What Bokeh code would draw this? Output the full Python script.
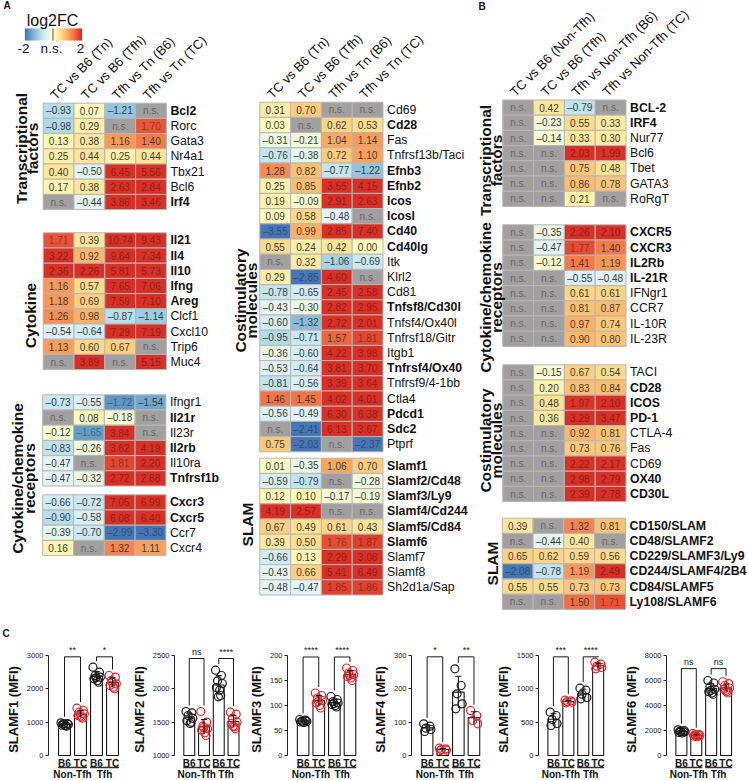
import numpy as np
from bokeh.plotting import figure
from bokeh.models import Range1d, FixedTicker, ColumnDataSource
from bokeh.layouts import column, row
from bokeh.embed import file_html
from bokeh.resources import INLINE
from bokeh.core.properties import value

FONT = "Liberation Sans"
NS = None  # not significant

# ---------------- Panel A data ----------------
a_columns = ["TC vs B6 (Tn)", "TC vs B6 (Tfh)", "Tfh vs Tn (B6)", "Tfh vs Tn (TC)"]

a_tf_genes = ["Bcl2", "Rorc", "Gata3", "Nr4a1", "Tbx21", "Bcl6", "Irf4"]
a_tf_bold = [1, 0, 0, 0, 0, 0, 1]
a_tf_values = [
    [-0.93, 0.07, -1.21, NS],
    [-0.98, 0.29, NS, 1.70],
    [0.13, 0.38, 1.16, 1.40],
    [0.25, 0.44, 0.25, 0.44],
    [0.40, -0.50, 6.45, 5.56],
    [0.17, 0.38, 2.63, 2.84],
    [NS, -0.44, 3.86, 3.46],
]

a_cyt_genes = ["Il21", "Il4", "Il10", "Ifng", "Areg", "Clcf1", "Cxcl10", "Trip6", "Muc4"]
a_cyt_bold = [1, 1, 1, 1, 1, 0, 0, 0, 0]
a_cyt_values = [
    [1.71, 0.39, 10.74, 9.43],
    [3.22, 0.92, 9.64, 7.34],
    [2.36, 2.26, 5.81, 5.73],
    [1.16, 0.57, 7.65, 7.06],
    [1.18, 0.69, 7.59, 7.10],
    [1.26, 0.98, -0.87, -1.14],
    [-0.54, -0.64, 7.29, 7.19],
    [1.13, 0.60, 0.67, NS],
    [NS, 3.89, NS, 5.15],
]

a_rec1_genes = ["Ifngr1", "Il21r", "Il23r", "Il2rb", "Il10ra", "Tnfrsf1b"]
a_rec1_bold = [0, 1, 0, 1, 0, 1]
a_rec1_values = [
    [-0.73, -0.55, -1.72, -1.54],
    [NS, 0.08, -0.18, NS],
    [-0.12, -1.65, 3.84, NS],
    [-0.83, -0.26, 3.62, 4.19],
    [-0.47, NS, 1.81, 2.20],
    [-0.47, -0.32, 2.72, 2.88],
]

a_rec2_genes = ["Cxcr3", "Cxcr5", "Ccr7", "Cxcr4"]
a_rec2_bold = [1, 1, 0, 0]
a_rec2_values = [
    [-0.66, -0.72, 7.05, 6.99],
    [-0.90, -0.58, 6.08, 6.40],
    [-0.39, -0.70, -2.99, -3.30],
    [0.16, NS, 1.32, 1.11],
]

a_cos_genes = ["Cd69", "Cd28", "Fas", "Tnfrsf13b/Taci", "Efnb3", "Efnb2", "Icos", "Icosl",
               "Cd40", "Cd40lg", "Itk", "Klrl2", "Cd81", "Tnfsf8/Cd30l", "Tnfsf4/Ox40l",
               "Tnfrsf18/Gitr", "Itgb1", "Tnfrsf4/Ox40", "Tnfrsf9/4-1bb", "Ctla4", "Pdcd1",
               "Sdc2", "Ptprf"]
a_cos_bold = [0, 1, 0, 0, 1, 1, 1, 1, 1, 1, 0, 0, 0, 1, 0, 0, 0, 1, 0, 0, 1, 1, 0]
a_cos_values = [
    [0.31, 0.70, NS, NS],
    [0.03, NS, 0.62, 0.53],
    [-0.31, -0.21, 1.04, 1.14],
    [-0.76, -0.38, 0.72, 1.10],
    [1.28, 0.82, -0.77, -1.22],
    [0.25, 0.85, 3.55, 4.15],
    [0.19, -0.09, 2.91, 2.63],
    [0.09, 0.58, -0.48, NS],
    [-3.55, 0.99, 2.85, 7.40],
    [0.55, 0.24, 0.42, 0.00],
    [NS, 0.32, -1.06, -0.69],
    [0.29, -2.85, 4.60, NS],
    [-0.78, -0.65, 2.45, 2.58],
    [-0.43, -0.30, 2.82, 2.95],
    [-0.60, -1.32, 2.72, 2.01],
    [-0.95, -0.71, 1.57, 1.81],
    [-0.36, -0.60, 4.22, 3.98],
    [-0.53, -0.64, 3.81, 3.70],
    [-0.81, -0.56, 3.39, 3.64],
    [1.46, 1.45, 4.02, 4.01],
    [-0.56, -0.49, 6.30, 6.38],
    [NS, -2.41, 6.13, 3.67],
    [0.75, -2.03, NS, -2.37],
]

a_slam_genes = ["Slamf1", "Slamf2/Cd48", "Slamf3/Ly9", "Slamf4/Cd244", "Slamf5/Cd84",
                "Slamf6", "Slamf7", "Slamf8", "Sh2d1a/Sap"]
a_slam_bold = [1, 1, 1, 1, 1, 1, 0, 0, 0]
a_slam_values = [
    [0.01, -0.35, 1.06, 0.70],
    [-0.59, -0.79, NS, -0.28],
    [0.12, 0.10, -0.17, -0.19],
    [4.19, 2.57, NS, NS],
    [0.67, 0.49, 0.61, 0.43],
    [0.39, 0.50, 1.76, 1.87],
    [-0.66, 0.13, 2.29, 3.08],
    [-0.43, 0.66, 5.41, 6.49],
    [-0.48, -0.47, 1.85, 1.86],
]

# ---------------- Panel B data ----------------
b_columns = ["TC vs B6 (Non-Tfh)", "TC vs B6 (Tfh)", "Tfh vs Non-Tfh (B6)", "Tfh vs Non-Tfh (TC)"]

b_tf_genes = ["BCL-2", "IRF4", "Nur77", "Bcl6", "Tbet", "GATA3", "RoRgT"]
b_tf_bold = [1, 1, 0, 0, 0, 0, 0]
b_tf_values = [
    [NS, 0.42, -0.79, NS],
    [NS, -0.23, 0.55, 0.33],
    [NS, -0.14, 0.33, 0.30],
    [NS, NS, 2.03, 1.99],
    [NS, NS, 0.75, 0.48],
    [NS, NS, 0.86, 0.78],
    [NS, NS, 0.21, NS],
]

b_rec_genes = ["CXCR5", "CXCR3", "IL2Rb", "IL-21R", "IFNgr1", "CCR7", "IL-10R", "IL-23R"]
b_rec_bold = [1, 1, 1, 1, 0, 0, 0, 0]
b_rec_values = [
    [NS, -0.35, 2.26, 2.10],
    [NS, -0.47, 1.77, 1.40],
    [NS, -0.12, 1.41, 1.19],
    [NS, NS, -0.55, -0.48],
    [NS, NS, 0.61, 0.61],
    [NS, NS, 0.81, 0.87],
    [NS, NS, 0.97, 0.74],
    [NS, NS, 0.90, 0.80],
]

b_cos_genes = ["TACI", "CD28", "ICOS", "PD-1", "CTLA-4", "Fas", "CD69", "OX40", "CD30L"]
b_cos_bold = [0, 1, 1, 1, 0, 0, 0, 1, 1]
b_cos_values = [
    [NS, -0.15, 0.67, 0.54],
    [NS, 0.20, 0.83, 0.84],
    [NS, 0.48, 1.97, 2.10],
    [NS, 0.36, 3.29, 3.47],
    [NS, NS, 0.92, 0.81],
    [NS, NS, 0.73, 0.76],
    [NS, NS, 2.22, 2.17],
    [NS, NS, 2.98, 2.79],
    [NS, NS, 2.39, 2.78],
]

b_slam_genes = ["CD150/SLAM", "CD48/SLAMF2", "CD229/SLAMF3/Ly9", "CD244/SLAMF4/2B4",
                "CD84/SLAMF5", "Ly108/SLAMF6"]
b_slam_bold = [1, 1, 1, 1, 1, 1]
b_slam_values = [
    [0.39, NS, 1.32, 0.81],
    [NS, -0.44, 0.40, NS],
    [0.65, 0.62, 0.59, 0.56],
    [-2.08, -0.78, 1.19, 2.49],
    [0.55, 0.55, 0.73, 0.73],
    [NS, NS, 1.50, 1.71],
]

# ---------------- Panel C data (MFI, individual mice) ----------------
c_groups = ["B6", "TC", "B6", "TC"]
c_supergroups = ["Non-Tfh", "Tfh"]
c_titles = ["SLAMF1 (MFI)", "SLAMF2 (MFI)", "SLAMF3 (MFI)", "SLAMF4 (MFI)", "SLAMF5 (MFI)", "SLAMF6 (MFI)"]
c_ticks = [[0, 1000, 2000, 3000], [1000, 1500, 2000, 2500], [0, 50, 100, 150, 200],
           [0, 100, 200, 300], [0, 500, 1000, 1500], [0, 2000, 4000, 6000, 8000]]
slamf1 = [[980, 960, 940, 930, 910, 900, 880, 950],
          [1420, 1350, 1300, 1250, 1200, 1150, 1120, 1180],
          [2650, 2500, 2400, 2350, 2300, 2250, 2200, 2330],
          [2400, 2350, 2250, 2150, 2100, 2050, 2000, 2200]]
slamf2 = [[1660, 1640, 1600, 1560, 1520, 1480, 1500],
          [1660, 1500, 1440, 1400, 1380, 1340, 1300, 1420],
          [2280, 2200, 2120, 2080, 2020, 1980, 1900, 1880],
          [1650, 1620, 1560, 1500, 1480, 1430, 1400, 1440]]
slamf3 = [[72, 70, 69, 68, 67, 66, 71, 68],
          [125, 120, 115, 110, 105, 100, 95, 108],
          [118, 112, 108, 105, 102, 100, 97, 104],
          [175, 170, 165, 162, 158, 155, 150, 160]]
slamf4 = [[95, 88, 82, 78, 72],
          [22, 20, 18, 16, 15],
          [260, 210, 185, 155, 140],
          [135, 120, 105, 95]]
slamf5 = [[650, 600, 540, 480, 450],
          [830, 820, 810, 800, 790],
          [1010, 980, 920, 870, 850],
          [1400, 1370, 1340, 1320, 1300]]
slamf6 = [[2050, 2000, 1950, 1900, 1850, 1800, 1880, 1920],
          [1750, 1700, 1650, 1600, 1550, 1500, 1620, 1580],
          [6000, 5800, 5500, 5300, 5100, 5000, 4900, 5200],
          [5900, 5750, 5600, 5400, 5300, 5100, 5000, 5200]]
c_data = [slamf1, slamf2, slamf3, slamf4, slamf5, slamf6]
c_sig = [("**", "*"), ("ns", "****"), ("****", "****"), ("*", "**"), ("***", "****"), ("ns", "ns")]
c_bracket_top = [2960, 2455, 197, 296, 1480, 6950]

# ---------------- colours ----------------
STOPS = [(-2.0, "#4575b4"), (-1.5, "#74add1"), (-1.0, "#abd9e9"), (-0.5, "#e0f3f8"),
         (0.0, "#ffffbf"), (0.5, "#fee090"), (1.0, "#fdae61"), (1.5, "#f46d43"), (2.0, "#d73027")]
NS_FILL = "#a19f9f"


def hex2rgb(h):
    return np.array([int(h[i:i + 2], 16) for i in (1, 3, 5)], dtype=float)


def rgb2hex(c):
    c = np.clip(np.round(c), 0, 255).astype(int)
    return "#%02x%02x%02x" % tuple(c)


def cmap(v):
    v = max(-2.0, min(2.0, v))
    for (a, ca), (b, cb) in zip(STOPS[:-1], STOPS[1:]):
        if v <= b:
            t = (v - a) / (b - a)
            return rgb2hex(hex2rgb(ca) * (1 - t) + hex2rgb(cb) * t)
    return STOPS[-1][1]


def fmt(v):
    s = "%.2f" % abs(v)
    return ("\u2013" + s) if v < 0 else s


# ---------------- top figure (panels A and B) ----------------
W, H = 748, 640
top = figure(width=W, height=H, x_range=Range1d(0, W), y_range=Range1d(H, 0),
             output_backend="svg", toolbar_location=None, min_border=0,
             x_axis_location=None, y_axis_location=None)
top.grid.visible = False
top.outline_line_color = None

CW, RH = 30.8, 15.2
blocks = [
    (a_tf_genes, a_tf_bold, a_tf_values, 42.7, 102.7),
    (a_cyt_genes, a_cyt_bold, a_cyt_values, 42.7, 232.3),
    (a_rec1_genes, a_rec1_bold, a_rec1_values, 42.2, 394.3),
    (a_rec2_genes, a_rec2_bold, a_rec2_values, 42.2, 494.3),
    (a_cos_genes, a_cos_bold, a_cos_values, 259.3, 101.7),
    (a_slam_genes, a_slam_bold, a_slam_values, 259.3, 457.7),
    (b_tf_genes, b_tf_bold, b_tf_values, 502.3, 99.5),
    (b_rec_genes, b_rec_bold, b_rec_values, 502.3, 224.3),
    (b_cos_genes, b_cos_bold, b_cos_values, 502.3, 364.3),
    (b_slam_genes, b_slam_bold, b_slam_values, 501.8, 517.7),
]

cell = dict(x=[], y=[], fill=[], label=[], tcol=[])
lab_n = dict(x=[], y=[], text=[])
lab_b = dict(x=[], y=[], text=[])
for genes, bold, vals, x0, y0 in blocks:
    for i, (g, b, rv) in enumerate(zip(genes, bold, vals)):
        cy = y0 + (i + 0.5) * RH
        for j, v in enumerate(rv):
            cx = x0 + (j + 0.5) * CW
            cell["x"].append(cx)
            cell["y"].append(cy)
            if v is None:
                cell["fill"].append(NS_FILL)
                cell["label"].append("n.s.")
                cell["tcol"].append("#6b6969")
            else:
                f = cmap(v)
                cell["fill"].append(f)
                cell["label"].append(fmt(v))
                if abs(v) >= 1.6:
                    cell["tcol"].append(rgb2hex(hex2rgb(f) * 0.68))
                else:
                    cell["tcol"].append("#3d3d3d")
        d = lab_b if b else lab_n
        d["x"].append(x0 + 4 * CW + 4)
        d["y"].append(cy)
        d["text"].append(g)

cell_src = ColumnDataSource(cell)
top.rect(x="x", y="y", width=CW, height=RH, fill_color="fill", line_color="#b7b5b5",
         line_width=1, source=cell_src)
top.text(x="x", y="y", text="label", text_color="tcol", text_align="center",
         text_baseline="middle", text_font=value(FONT), text_font_size="10px",
         source=cell_src)
top.text(x="x", y="y", text="text", text_color="#111111", text_align="left",
         text_baseline="middle", text_font=value(FONT), text_font_size="12.3px",
         source=ColumnDataSource(lab_n))
top.text(x="x", y="y", text="text", text_color="#111111", text_align="left",
         text_baseline="middle", text_font=value(FONT), text_font_size="12.3px",
         text_font_style="bold", source=ColumnDataSource(lab_b))

# rotated column headers
hdr = dict(x=[], y=[], text=[])
for cols, bx, by in [(a_columns, 42.7, 102.7), (a_columns, 259.3, 101.7), (b_columns, 502.3, 99.5)]:
    for j, c in enumerate(cols):
        hdr["x"].append(bx + (j + 0.5) * CW - 6)
        hdr["y"].append(by - 6)
        hdr["text"].append(c)
top.text(x="x", y="y", text="text", angle=np.pi / 4, text_align="left",
         text_baseline="alphabetic", text_font=value(FONT), text_font_size="13px",
         text_color="#111111", source=ColumnDataSource(hdr))

# group labels (rotated)
groups = [
    ("Transcriptional", 20.5, 148), ("factors", 31.5, 148),
    ("Cytokine", 30, 315),
    ("Cytokine/chemokine", 17, 478), ("receptors", 28.5, 478),
    ("Costimulatory", 240, 300), ("molecules", 251, 300),
    ("SLAM", 247, 524),
    ("Transcriptional", 485, 160), ("factors", 496, 160),
    ("Cytokine/chemokine", 485, 297), ("receptors", 496, 297),
    ("Costimulatory", 485, 440), ("molecules", 496, 440),
    ("SLAM", 492, 563),
]
top.text(x=[g[1] for g in groups], y=[g[2] for g in groups],
         text=[g[0] for g in groups], angle=np.pi / 2, text_align="center",
         text_baseline="middle", text_font=value(FONT), text_font_size="15.5px",
         text_font_style="bold", text_color="#111111")

# colour key
cb_n = 57
cb_vals = np.linspace(-2, 2, cb_n)
cb_x = 24.5 + (np.arange(cb_n) + 0.5) * (57.0 / cb_n)
top.rect(x=cb_x, y=[34] * cb_n, width=57.0 / cb_n + 0.3, height=12,
         fill_color=[cmap(v) for v in cb_vals], line_color=None)
top.rect(x=[52.5], y=[34], width=1.6, height=12, fill_color="#8f8f8f", line_color=None)
top.text(x=[52], y=[20], text=["log2FC"], text_align="center", text_baseline="middle",
         text_font=value(FONT), text_font_size="16px", text_color="#111111")
top.text(x=[23, 51, 80], y=[48] * 3, text=["-2", "n.s.", "2"],
         text_align="center", text_baseline="middle", text_font=value(FONT),
         text_font_size="13.5px", text_color="#111111")

# panel letters
top.text(x=[3, 478, 2], y=[5, 6, 633], text=["A", "B", "C"], text_align="left",
         text_baseline="middle", text_font=value(FONT), text_font_size="10px",
         text_font_style="bold", text_color="#111111")

# ---------------- panel C ----------------
c_widths = [128, 117, 124, 123, 128, 126]
c_borders = [48, 40, 40, 40, 40, 40]
PX = 16.0  # pixels per category slot
CH = 138
ZERO_PX, TOP_PX = 115, 15
jit = [-0.22, 0.18, -0.08, 0.24, -0.16, 0.06, 0.13, -0.03]
colors = ["#1a1a1a", "#e3232b", "#1a1a1a", "#e3232b"]

cfigs = []
for k in range(6):
    ticks = c_ticks[k]
    B, T = ticks[0], ticks[-1]
    s = (T - B) / (ZERO_PX - TOP_PX)
    w = c_widths[k]
    bl = c_borders[k]
    xr = Range1d(-1.0, -1.0 + (w - bl) / PX)
    yr = Range1d(B - (CH - ZERO_PX) * s, T + TOP_PX * s)
    p = figure(width=w, height=CH, x_range=xr, y_range=yr, output_backend="svg",
               toolbar_location=None, x_axis_location=None, min_border_left=bl,
               min_border_right=0, min_border_top=0, min_border_bottom=0)
    p.grid.visible = False
    p.outline_line_color = None
    ax = p.yaxis[0]
    ax.ticker = FixedTicker(ticks=ticks)
    ax.bounds = (B, T)
    ax.axis_label = c_titles[k]
    ax.axis_label_text_font = FONT
    ax.axis_label_text_font_size = "13px"
    ax.axis_label_text_font_style = "bold"
    ax.axis_label_text_color = "#111111"
    ax.axis_label_standoff = 3
    ax.major_label_text_font = FONT
    ax.major_label_text_font_size = "7.5px"
    ax.major_label_text_color = "#222222"
    ax.major_label_standoff = 2
    ax.major_tick_out = 3
    ax.major_tick_in = 0
    ax.minor_tick_out = 0
    ax.minor_tick_in = 0
    ax.axis_line_color = "#222222"
    ax.major_tick_line_color = "#222222"

    groups_k = c_data[k]
    xs = np.arange(4, dtype=float)
    means = [float(np.mean(g)) for g in groups_k]
    sds = [float(np.std(g, ddof=1)) for g in groups_k]
    p.vbar(x=xs, top=means, bottom=B, width=0.74, fill_color="white",
           line_color="#1a1a1a", line_width=1.1)
    for gi, g in enumerate(groups_k):
        px_ = [gi + jit[n % len(jit)] for n in range(len(g))]
        p.scatter(x=px_, y=g, size=8, marker="circle", fill_color=None,
                  line_color=colors[gi], line_width=1.2)
    # error bars (mean +/- SD)
    p.segment(x0=xs, y0=[m - sd for m, sd in zip(means, sds)], x1=xs,
              y1=[m + sd for m, sd in zip(means, sds)], line_color="#1a1a1a", line_width=1.1)
    p.segment(x0=xs - 0.2, y0=[m + sd for m, sd in zip(means, sds)], x1=xs + 0.2,
              y1=[m + sd for m, sd in zip(means, sds)], line_color="#1a1a1a", line_width=1.1)
    # significance brackets
    btop = c_bracket_top[k]
    for pi, (a, b) in enumerate([(0, 1), (2, 3)]):
        la = max(groups_k[a]) + 6 * s
        lb = max(groups_k[b]) + 6 * s
        p.line(x=[a, a, b, b], y=[la, btop, btop, lb], line_color="#1a1a1a", line_width=1)
        p.text(x=[(a + b) / 2], y=[btop + 2 * s], text=[c_sig[k][pi]], text_align="center",
               text_baseline="bottom", text_font=value(FONT), text_font_size="9px",
               text_color="#1a1a1a")
    # category labels
    p.text(x=xs, y=[B - 7.5 * s] * 4, text=c_groups, text_align="center",
           text_baseline="middle", text_font=value(FONT), text_font_size="10px",
           text_font_style="bold", text_color="#111111")
    p.segment(x0=[-0.4, 1.6], y0=[B - 12 * s] * 2, x1=[1.4, 3.4], y1=[B - 12 * s] * 2,
              line_color="#333333", line_width=1.5)
    p.text(x=[0.5, 2.5], y=[B - 19 * s] * 2, text=c_supergroups, text_align="center",
           text_baseline="middle", text_font=value(FONT), text_font_size="10px",
           text_font_style="bold", text_color="#111111")
    cfigs.append(p)

layout = column(top, row(*cfigs))
open("out.html", "w").write(file_html(layout, INLINE))
